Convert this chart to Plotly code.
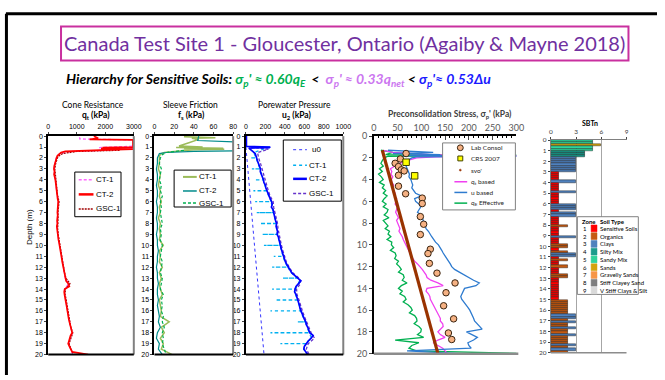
import plotly.graph_objects as go

W, H = 665, 380
def px(x): return x / W
def py(y): return 1 - y / H

# ---------------- DATA ----------------
# depth grids (m)
DEPTH_Q = [2.0 + 0.25 * i for i in range(73)]   # 2.0 .. 20.0
DEPTH_H = [2.0 + 0.5 * i for i in range(37)]    # 2.0 .. 20.0

# Panel 1 - cone resistance qt (kPa)
QT_CT2_TOP_DEPTH = [0.0, 0.1, 0.2, 0.3, 0.35, 0.7, 1.0, 1.05, 1.1, 1.15, 1.2, 1.25, 1.3, 1.35, 1.4, 1.5, 1.6, 1.8]
QT_CT2_TOP = [1600, 1700, 1750, 1450, 2970, 2970, 2970, 1900, 2970, 1850, 2970, 2100, 1600, 900, 600, 450, 400, 320]
QT_CT2 = [290, 260, 230, 210,
          200, 220, 205, 240,
          250, 262, 270, 282,
          290, 300, 312, 330,
          350, 340, 328, 320,
          322, 332, 318, 310,
          322, 300, 312, 320,
          330, 342, 360, 380,
          400, 412, 430, 442,
          460, 478, 492, 508,
          522, 540, 558, 572,
          590, 625, 700, 740,
          580, 560, 572, 580,
          600, 622, 640, 652,
          680, 700, 698, 720,
          742, 760, 780, 802,
          840, 782, 760, 720,
          700, 742, 780, 840,
          1400]
QT_CT1_TOP_DEPTH = [0.1, 0.25, 0.28, 0.35, 0.9, 1.0, 1.05, 1.1, 1.3, 1.4, 1.5, 1.6, 1.8]
QT_CT1_TOP = [1100, 1100, 1400, 3200, 3200, 1750, 1750, 3200, 2000, 800, 500, 400, 320]
QT_CT1 = [280, 240, 210, 220, 255, 275, 295, 320, 360, 335, 325, 330, 315, 315, 335, 365, 405, 435,
          465, 495, 525, 560, 600, 720, 570, 575, 610, 645, 690, 710, 750, 790, 850, 770, 710, 790, 860]
QT_GSC_TOP_DEPTH = [1.3, 1.4, 1.6, 1.8]
QT_GSC_TOP = [2500, 1000, 500, 380]
QT_GSC = [320, 260, 230, 240, 270, 290, 310, 330, 380, 350, 340, 345, 330, 330, 350, 380, 420, 450,
          480, 510, 540, 570, 620, 760, 600, 590, 630, 660, 700, 730, 760, 790, 860, 800, 730, 800, 900]

# Panel 2 - sleeve friction fs (kPa)
FS_CT1_TOP_DEPTH = [0.05, 0.15, 0.2, 0.3, 0.6, 0.9, 1.0, 1.05, 1.1, 1.15, 1.2, 1.25, 1.4, 1.5, 1.6, 1.8]
FS_CT1_TOP = [30, 62, 38, 45, 35, 25, 49, 22, 70, 30, 71, 40, 20, 10, 7, 5]
FS_CT1 = [5, 5, 4, 6, 5, 4, 6, 5, 7, 5, 6, 4, 6, 5, 6, 5, 9, 5, 6, 5,
          8, 5, 7, 5, 6, 8, 5, 6, 7, 6, 15, 7, 10, 6, 9, 7, 18]
FS_CT2_TOP_DEPTH = [0.0, 0.4, 0.55, 1.3, 1.35, 1.4, 1.5, 1.6, 1.8]
FS_CT2_TOP = [45, 44, 90, 90, 90, 40, 12, 5, 4]
FS_CT2 = [3, 3, 2, 3, 3, 2, 3, 3, 2, 3, 3, 2, 3, 3, 2, 3, 3, 4, 3, 3,
          2, 3, 3, 4, 3, 3, 4, 3, 4, 5, 4, 6, 3, 2, 5, 4, 8]
FS_GSC_TOP_DEPTH = [1.3, 1.4, 1.5, 1.7]
FS_GSC_TOP = [30, 20, 12, 8]
FS_GSC = [6, 5, 7, 6, 5, 7, 6, 8, 6, 7, 6, 7, 8, 6, 7, 6, 8, 7, 6, 8,
          7, 6, 8, 7, 6, 9, 7, 8, 7, 9, 8, 10, 8, 9, 8, 10, 12]

# Panel 3 - porewater pressure u2 (kPa)
U0_DEPTH = [1.0, 20.0]
U0 = [0, 186]
U2_CT2_TOP_DEPTH = [0.0, 0.5, 0.95, 1.0, 1.05, 1.1, 1.2, 1.4, 1.6, 1.8]
U2_CT2_TOP = [5, 3, 5, 250, 240, 30, 40, 70, 95, 105]
U2_CT2 = [110, 118, 130, 135,
          150, 148, 160, 172,
          180, 185, 200, 205,
          215, 225, 240, 250,
          265, 270, 262, 280,
          285, 290, 300, 305,
          315, 310, 318, 325,
          320, 335, 340, 350,
          355, 360, 368, 378,
          385, 395, 405, 420,
          435, 450, 470, 500,
          535, 565, 540, 515,
          505, 500, 515, 525,
          535, 540, 550, 555,
          565, 575, 590, 600,
          615, 620, 635, 645,
          655, 690, 670, 640,
          615, 600, 595, 620,
          635]
U2_GSC_TOP_DEPTH = [1.0, 1.2, 1.5]
U2_GSC_TOP = [50, 230, 120]
U2_GSC = [130, 150, 165, 180, 195, 215, 230, 250, 280, 285, 300, 315, 325, 330, 340, 350, 365, 380, 395, 415,
          445, 480, 545, 560, 520, 525, 545, 560, 580, 600, 625, 650, 670, 705, 640, 620, 650]
U2_CT1_DEPTH = [1.0 + 0.5 * i for i in range(39)]
U2_CT1 = [245, 80, 105, 125, 145, 160, 178, 195, 212, 235, 260, 268, 282, 298, 312, 315, 325, 338, 352, 365,
          382, 400, 430, 465, 530, 545, 505, 510, 530, 548, 560, 585, 610, 630, 650, 675, 610, 595, 630]
U2_CT1_DROP_DEPTH = [1, 2, 3, 4, 5, 6, 7, 8, 9, 10, 11, 12, 13, 14, 15, 16, 17, 18, 19, 20]
U2_CT1_DROP = [60, 44, 61, 90, 77, 95, 111, 145, 168, 185, 286, 269, 377, 269, 303, 252, 532, 252, 354, 337]

# Panel 4 - preconsolidation stress (kPa)
QTB_TOP_DEPTH = [1.3, 1.5, 1.7, 1.8, 1.9]
QTB_TOP = [20, 40, 120, 320, 130]
QTB = [90, 70, 55, 45, 35, 38, 36, 40, 37, 38, 42, 40, 41, 45, 44, 48, 47, 45, 50, 48,
       46, 49, 52, 48, 50, 52, 55, 53, 57, 60, 62, 65, 67, 70, 73, 76, 78, 82, 86, 92,
       98, 102, 106, 110, 112, 120, 135, 146, 112, 110, 115, 118, 119, 122, 125, 128,
       130, 133, 137, 140, 140, 145, 146, 140, 135, 140, 150, 135, 125, 135, 145, 150, 155]
UB_TOP_DEPTH = [1.3, 1.5, 1.6, 1.7, 1.8, 1.85, 1.9]
UB_TOP = [30, 125, 40, 140, 60, 320, 90]
UB = [80, 70, 65, 68, 70, 72, 75, 74, 78, 80, 82, 80, 85, 88, 100, 86, 88, 95, 99, 96,
      92, 100, 102, 105, 107, 108, 110, 115, 118, 122, 126, 130, 136, 140, 143, 146,
      150, 154, 158, 161, 164, 170, 180, 190, 198, 210, 222, 215, 191, 188, 186, 183,
      185, 190, 195, 198, 202, 205, 208, 210, 212, 218, 222, 228, 195, 205, 218, 210,
      198, 200, 205, 70, 180]
QE_TOP_DEPTH = [1.3, 1.5, 1.7, 1.75, 1.85]
QE_TOP = [15, 40, 25, 320, 30]
QE = [22, 18, 15, 20, 12, 18, 10, 16, 20, 12, 22, 18, 25, 20, 28, 22, 18, 26, 20, 30,
      28, 22, 32, 20, 25, 30, 24, 33, 30, 36, 28, 38, 37, 42, 35, 45, 47, 44, 52, 48,
      54, 58, 52, 62, 64, 60, 70, 58, 52, 60, 55, 65, 68, 62, 72, 78, 81, 75, 86, 90,
      91, 85, 95, 100, 99, 92, 105, 45, 95, 80, 74, 90, 320]
SVO_DEPTH = [1.3, 20.0]
SVO = [18, 135]
LAB_DEPTH = [1.6, 2.1, 2.5, 2.8, 3.1, 3.2, 3.6, 4.6, 5.3, 5.7, 6.2, 7.4, 8.1, 9.05, 10.4, 10.8,
             11.7, 12.6, 13.5, 14.4, 15.6, 16.8, 18.1, 18.7]
LAB_SIGP = [68, 56, 45, 52, 58, 64, 52, 52, 67, 102, 102, 98, 105, 98, 119, 114,
            117, 133, 171, 152, 147, 168, 157, 164]
CRS_DEPTH = [2.4, 3.65]
CRS_SIGP = [68, 86]

# Panel 5 - SBTn zones (0.2 m intervals)
SBT_DEPTH = [0.1 + 0.2 * i for i in range(100)]
SBT_ZONE = [5, 5, 6, 5, 5, 4, 4, 4, 3, 3,
            3, 3, 3, 3, 3, 1, 1, 1, 1, 3,
            1, 1, 1, 1, 3, 1, 1, 1, 1, 1,
            3, 3, 3, 1, 3, 3, 1, 1, 1, 1,
            2, 1, 1, 1, 1, 3, 1, 1, 1, 2,
            2, 1, 2, 3, 3, 1, 2, 1, 1, 2,
            1, 1, 1, 2, 2, 1, 1, 1, 1, 1,
            1, 1, 1, 1, 1, 2, 2, 2, 2, 2,
            2, 2, 3, 3, 2, 3, 2, 2, 3, 2,
            2, 3, 2, 2, 2, 2, 3, 2, 3, 2]
ZONE_COLORS = ['#ff0000', '#c55a11', '#4f81bd', '#1a9c8c', '#2fd39b',
               '#d4a20c', '#f79646', '#7f7f7f', '#d9d9d9']
ZONE_NAMES = ['Sensitive Soils', 'Organics', 'Clays', 'Silty Mix', 'Sandy Mix',
              'Sands', 'Gravelly Sands', 'Stiff Clayey Sand', 'V Stiff Clays & Silt']

# ---------------- FIGURE ----------------
fig = go.Figure()
ARIAL = 'Liberation Sans, Arial'
CAL = 'Lato, Open Sans'

def line(x, y, ax, color, width, dash='solid'):
    fig.add_trace(go.Scatter(x=x, y=y, mode='lines', xaxis='x' + ax, yaxis='y' + ax,
                             line=dict(color=color, width=width, dash=dash),
                             showlegend=False, hoverinfo='skip'))

# panel 1
line(QT_CT1_TOP + QT_CT1, QT_CT1_TOP_DEPTH + DEPTH_H, '', '#ff66ff', 1.3, '3px,2px')
line(QT_GSC_TOP + QT_GSC, QT_GSC_TOP_DEPTH + DEPTH_H, '', '#a00000', 1.3, '2px,1px')
line(QT_CT2_TOP + QT_CT2, QT_CT2_TOP_DEPTH + DEPTH_Q, '', '#ff0000', 1.7)
# panel 2
line(FS_CT1_TOP + FS_CT1, FS_CT1_TOP_DEPTH + DEPTH_H, '2', '#9bbb59', 1.5)
line(FS_CT2_TOP + FS_CT2, FS_CT2_TOP_DEPTH + DEPTH_H, '2', '#008b8b', 1.2)
line(FS_GSC_TOP + FS_GSC, FS_GSC_TOP_DEPTH + DEPTH_H, '2', '#00b050', 1.2, '3px,2px')
# panel 3
ct1_x, ct1_y = [], []
for d, v in zip(U2_CT1_DEPTH, U2_CT1):
    ct1_x.append(v); ct1_y.append(d)
    if d in U2_CT1_DROP_DEPTH:
        low = U2_CT1_DROP[U2_CT1_DROP_DEPTH.index(d)]
        ct1_x += [low, v]; ct1_y += [d, d]
line(U0, U0_DEPTH, '3', '#3333ff', 1, 'dot')
line(ct1_x, ct1_y, '3', '#00b0f0', 1.3, 'dot')
line(U2_GSC_TOP + U2_GSC, U2_GSC_TOP_DEPTH + DEPTH_H, '3', '#6633cc', 1.3, '3px,2px')
line(U2_CT2_TOP + U2_CT2, U2_CT2_TOP_DEPTH + DEPTH_Q, '3', '#0000ff', 1.7)
# panel 4
line(QE_TOP + QE, QE_TOP_DEPTH + DEPTH_Q, '4', '#00b050', 1.3)
line(QTB_TOP + QTB, QTB_TOP_DEPTH + DEPTH_Q, '4', '#f040f0', 1.3)
line(UB_TOP + UB, UB_TOP_DEPTH + DEPTH_Q, '4', '#2e7bcf', 1.3)
line(SVO, SVO_DEPTH, '4', '#993300', 3.2)
fig.add_trace(go.Scatter(x=LAB_SIGP, y=LAB_DEPTH, mode='markers', xaxis='x4', yaxis='y4',
                         marker=dict(size=6.5, color='#f5b183', line=dict(color='#3a2410', width=1)),
                         showlegend=False, hoverinfo='skip'))
fig.add_trace(go.Scatter(x=CRS_SIGP, y=CRS_DEPTH, mode='markers', xaxis='x4', yaxis='y4',
                         marker=dict(size=6.5, symbol='square', color='#ffff00', line=dict(color='#404000', width=1)),
                         showlegend=False, hoverinfo='skip'))
# panel 5
fig.add_trace(go.Bar(x=SBT_ZONE, y=SBT_DEPTH, orientation='h', width=0.2, xaxis='x5', yaxis='y5',
                     marker=dict(color=[ZONE_COLORS[z - 1] for z in SBT_ZONE], line=dict(color='black', width=0.4)),
                     showlegend=False, hoverinfo='skip'))

# ---------------- AXES ----------------
tick_small = dict(family=ARIAL, size=7, color='black')
def xax(x0, x1, y0, y1, rng, tickvals, font, anchor, **kw):
    d = dict(domain=[px(x0), px(x1)], range=rng, tickvals=tickvals, side='top', anchor=anchor,
             showgrid=False, zeroline=False, tickfont=font, ticks='outside', ticklen=2,
             showline=True, linecolor='black', linewidth=2, fixedrange=True)
    d.update(kw)
    return d
def yax(y0, y1, dtick, font, anchor, **kw):
    d = dict(domain=[py(y1), py(y0)], range=[20, 0], dtick=dtick, anchor=anchor,
             showgrid=False, zeroline=False, tickfont=font, ticks='outside', ticklen=2,
             showline=True, linecolor='black', linewidth=2, fixedrange=True)
    d.update(kw)
    return d

P1 = (46, 133); P2 = (154, 234); P3 = (247, 346); P4 = (377, 522); P5 = (557, 634)
Y0, Y1 = 134, 359
layout = dict(
    xaxis=xax(*P1, Y0, Y1, [0, 3000], [0, 1000, 2000, 3000], tick_small, 'y'),
    yaxis=yax(Y0, Y1, 1, tick_small, 'x'),
    xaxis2=xax(*P2, Y0, Y1, [0, 80], [0, 20, 40, 60, 80], tick_small, 'y2'),
    yaxis2=yax(Y0, Y1, 1, tick_small, 'x2'),
    xaxis3=xax(*P3, Y0, Y1, [0, 1000], [0, 200, 400, 600, 800, 1000], tick_small, 'y3'),
    yaxis3=yax(Y0, Y1, 1, tick_small, 'x3'),
    xaxis4=xax(*P4, 134, 358, [0, 300], [0, 50, 100, 150, 200, 250, 300],
               dict(family=CAL, size=9, color='#595959'), 'y4', linewidth=1.5, ticks='inside', ticklen=4,
               minor=dict(ticks='inside', ticklen=2, dtick=10, tickcolor='black')),
    yaxis4=yax(134, 358, 2, dict(family=CAL, size=9, color='#595959'), 'x4', linewidth=1.5, ticklen=3),
    xaxis5=xax(*P5, 138, 357, [0, 9], [0, 3, 6, 9], dict(family=CAL, size=6.5, color='#404040'), 'y5',
               linewidth=1, linecolor='#808080', showgrid=True, gridcolor='#a6a6a6', gridwidth=1),
    yaxis5=yax(138, 357, 1, dict(family=CAL, size=6.5, color='#404040'), 'x5', linewidth=1, linecolor='#808080'),
)

shapes = []
ann = []
def sline(x0, y0, x1, y1, color, width, dash='solid'):
    shapes.append(dict(type='line', xref='paper', yref='paper', x0=px(x0), y0=py(y0), x1=px(x1), y1=py(y1),
                       line=dict(color=color, width=width, dash=dash)))
def srect(x0, y0, x1, y1, color, width, fill='white'):
    shapes.append(dict(type='rect', xref='paper', yref='paper', x0=px(x0), y0=py(y0), x1=px(x1), y1=py(y1),
                       line=dict(color=color, width=width), fillcolor=fill))
def txt(x, y, s, size, color='black', family=ARIAL, xanchor='left', **kw):
    a = dict(x=px(x), y=py(y), xref='paper', yref='paper', text=s, showarrow=False, xanchor=xanchor,
             yanchor='middle', font=dict(family=family, size=size, color=color))
    a.update(kw)
    ann.append(a)

# outer frame + title box
sline(3, 8, 665, 8, 'black', 3)
sline(3.5, 8, 3.5, 380, 'black', 3)
srect(59, 21, 636, 56, '#c9309f', 2)
txt(347.5, 38.5, 'Canada Test Site 1 - Gloucester, Ontario (Agaiby &amp; Mayne 2018)', 20, '#7030a0', CAL, 'center')
sub = ('<b><i>Hierarchy for Sensitive Soils: '
       '<span style="color:#00b050">σ<sub>p</sub>\' ≈ 0.60q<sub>E</sub></span>  <  '
       '<span style="color:#cc77f0">σ<sub>p</sub>\' ≈ 0.33q<sub>net</sub></span> < '
       '<span style="color:#1a1aff">σ<sub>p</sub>\'≈ 0.53Δu</span></i></b>')
txt(62, 76, sub, 14, 'black', CAL)

# panel right/bottom edges (panels 1-3)
for (a, b) in (P1, P2, P3):
    sline(b, Y0, b, Y1, '#808080', 2)
    sline(a, Y1, b, Y1, 'black', 2)
sline(377, 358, 524, 358, '#8c8c8c', 2.5)
sline(557, 357, 634, 357, '#8c8c8c', 1.5)

# panel titles
txt(92, 102, 'Cone Resistance', 8.5, 'black', CAL, 'center')
txt(95, 113, '<b>q<sub>t</sub> (kPa)</b>', 8.5, 'black', CAL, 'center')
txt(191, 102, 'Sleeve Friction', 8.5, 'black', CAL, 'center')
txt(192, 113, '<b>f<sub>s</sub> (kPa)</b>', 8.5, 'black', CAL, 'center')
txt(296, 102, 'Porewater Pressure', 8.5, 'black', CAL, 'center')
txt(298, 113, '<b>u<sub>2</sub> (kPa)</b>', 8.5, 'black', CAL, 'center')
txt(455, 112, '<b>Preconsolidation Stress, σ<sub>p</sub>\' (kPa)</b>', 8.5, '#404040', CAL, 'center')
txt(597, 121, '<b>SBTn</b>', 7, 'black', CAL, 'center')
txt(27, 228, 'Depth (m)', 8, 'black', ARIAL, 'center', textangle=-90)

# legend 1
srect(73, 171, 120, 217, 'black', 1)
for yy, lab, col, w, dsh in ((179, 'CT-1', '#ff66ff', 1.5, '3px,2px'), (194, 'CT-2', '#ff0000', 2.5, 'solid'),
                             (209, 'GSC-1', '#a00000', 1.5, '2px,1px')):
    sline(77, yy, 92, yy, col, w, dsh)
    txt(93, yy, lab, 8, 'black')
# legend 2
srect(174, 169, 232, 207, 'black', 1)
for yy, lab, col, w, dsh in ((176, 'CT-1', '#9bbb59', 2, 'solid'), (190.5, 'CT-2', '#008b8b', 1.5, 'solid'),
                             (203, 'GSC-1', '#00b050', 1.5, '3px,2px')):
    sline(183, yy, 197, yy, col, w, dsh)
    txt(197, yy, lab, 8, 'black')
# legend 3
srect(285, 138, 344, 201, 'black', 1)
for yy, lab, col, w, dsh in ((148, 'u0', '#3333ff', 1, 'dot'), (164, 'CT-1', '#00b0f0', 1.5, 'dot'),
                             (178, 'CT-2', '#0000ff', 2.5, 'solid'), (193, 'GSC-1', '#6633cc', 1.5, '3px,2px')):
    sline(295, yy, 309, yy, col, w, dsh)
    txt(309 if lab != 'u0' else 312, yy, lab, 8, 'black')
# legend 4
srect(447, 141, 521, 210, '#808080', 1)
shapes.append(dict(type='circle', xref='paper', yref='paper', x0=px(462), x1=px(468), y0=py(143), y1=py(149),
                   fillcolor='#f5b183', line=dict(color='#3a2410', width=1)))
srect(462.5, 154.5, 467.5, 159.5, '#404000', 1, '#ffff00')
shapes.append(dict(type='circle', xref='paper', yref='paper', x0=px(464), x1=px(466), y0=py(168), y1=py(170),
                   fillcolor='#993300', line=dict(color='#993300', width=0.5)))
for yy, col in ((181, '#f040f0'), (192, '#2e7bcf'), (203, '#00b050')):
    sline(459, yy, 472, yy, col, 1.5)
for yy, lab in ((146, 'Lab Consol'), (157, 'CRS 2007'), (169, "svo'"), (181, 'q<sub>t</sub> based'),
                (192, 'u based'), (203, 'q<sub>E</sub> Effective')):
    txt(474, yy, lab, 6.5, '#262626', CAL)
# legend 5 (soil types)
srect(584, 217, 646, 297, '#808080', 1)
txt(587, 221.5, '<b>Zone</b>', 6, 'black', CAL)
txt(605, 221.5, '<b>Soil Type</b>', 6, 'black', CAL)
for i, (col, name) in enumerate(zip(ZONE_COLORS, ZONE_NAMES)):
    yy = 229 + i * 8
    txt(592, yy, str(i + 1), 6, 'black', CAL, 'center')
    srect(598, yy - 3.5, 604, yy + 3.5, col, 0.5, col)
    txt(605.5, yy, name, 6, 'black', CAL)

layout.update(dict(width=W, height=H, margin=dict(l=0, r=0, t=0, b=0), paper_bgcolor='white',
                   plot_bgcolor='white', shapes=shapes, annotations=ann, showlegend=False, bargap=0))
fig.update_layout(**layout)
fig.write_html('out.html', config={'displayModeBar': False})
